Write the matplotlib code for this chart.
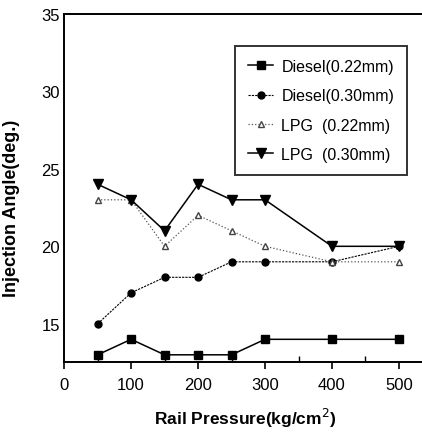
import matplotlib
matplotlib.use("Agg")
import matplotlib.pyplot as plt
from matplotlib.ticker import MultipleLocator

plt.rcParams['font.family'] = ['Liberation Sans', 'DejaVu Sans']

# rail pressure (kg/cm^2)
pressure = [50, 100, 150, 200, 250, 300, 400, 500]

# injection angle (deg.)
diesel_022 = [13, 14, 13, 13, 13, 14, 14, 14]
diesel_030 = [15, 17, 18, 18, 19, 19, 19, 20]
lpg_022 = [23, 23, 20, 22, 21, 20, 19, 19]
lpg_030 = [24, 23, 21, 24, 23, 23, 20, 20]

labels = ['Diesel(0.22mm)', 'Diesel(0.30mm)', 'LPG  (0.22mm)', 'LPG  (0.30mm)']

fig = plt.figure(figsize=(4.22, 4.35), dpi=100)
ax = fig.add_axes([0.152, 0.166, 0.86, 0.80])

ax.plot(pressure, diesel_022, '-', color='black', lw=1.1,
        marker='s', ms=5.5, label=labels[0])
ax.plot(pressure, diesel_030, linestyle=(0, (2, 1)), color='black', lw=0.8,
        marker='o', ms=5, label=labels[1])
ax.plot(pressure, lpg_022, ':', color='#555555', lw=0.9,
        marker='^', ms=5, mfc='white', mec='#444444', label=labels[2])
ax.plot(pressure, lpg_030, '-', color='black', lw=1.1,
        marker='v', ms=6.5, label=labels[3])

ax.set_xlim(0, 542)
ax.set_ylim(12.55, 35)
ax.set_xticks([0, 100, 200, 300, 400, 500])
ax.xaxis.set_minor_locator(MultipleLocator(50))
ax.set_yticks([15, 20, 25, 30, 35])
ax.tick_params(axis='x', which='major', direction='out', length=5, width=1.2,
               labelsize=12, pad=6)
ax.tick_params(axis='x', which='minor', direction='in', length=4, width=1)
ax.tick_params(axis='y', length=0, labelsize=12, pad=3)

for s in ['left', 'top', 'bottom']:
    ax.spines[s].set_linewidth(1.4)
ax.spines['right'].set_visible(False)

ax.set_xlabel('Rail Pressure(kg/cm$^2$)', fontsize=12.5, fontweight='bold',
              labelpad=10)
ax.set_ylabel('Injection Angle(deg.)', fontsize=13, fontweight='bold')
ax.yaxis.set_label_coords(-0.122, 0.445)

leg = ax.legend(loc='upper right', bbox_to_anchor=(0.945, 0.907),
                fontsize=11.5, frameon=True, fancybox=False, edgecolor='black',
                handlelength=1.6, handletextpad=0.5, labelspacing=0.9,
                borderpad=0.8, borderaxespad=0)
leg.get_frame().set_linewidth(1.4)

fig.savefig('out.png', dpi=100)
